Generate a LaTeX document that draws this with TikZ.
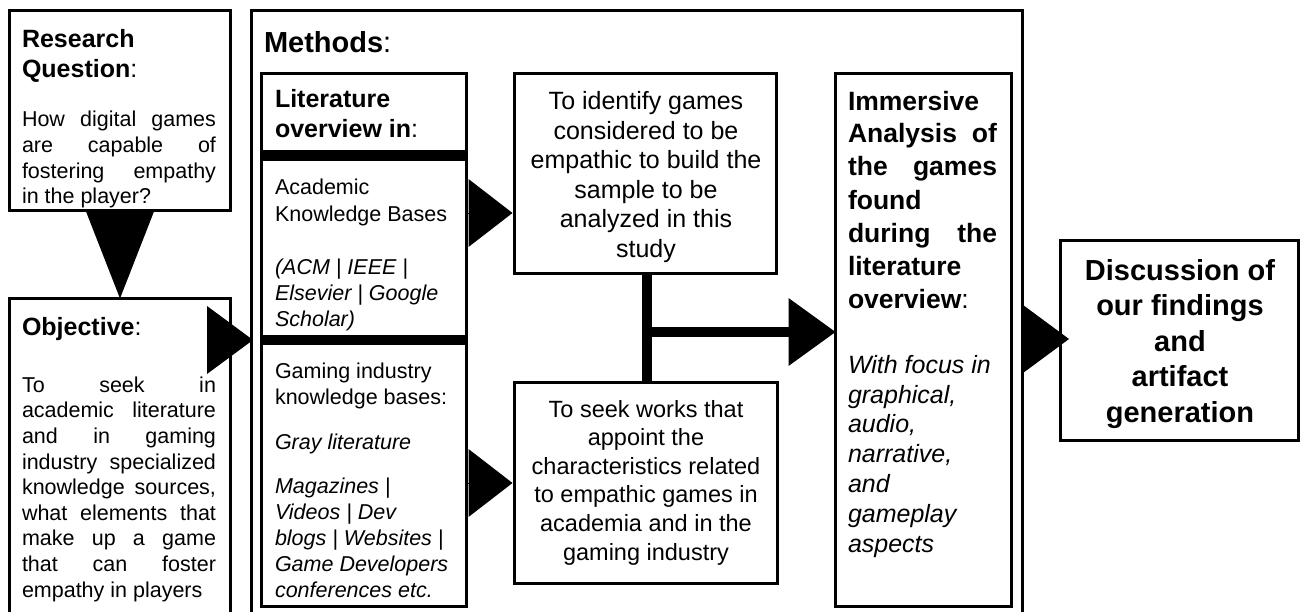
\documentclass[tikz,border=0pt]{standalone}
\usepackage{fontspec}
\setmainfont{Liberation Sans}
\usetikzlibrary{arrows.meta,fit}
% a line whose interword spaces stretch to the given width
\newcommand{\jline}[2]{\makebox[#1][s]{#2}}
\begin{document}
\begin{tikzpicture}[x=1pt,y=-1pt,
  box/.style={draw=black,line width=3pt,inner sep=0pt,outer sep=0pt},
  band/.style={fill=black,draw=none,inner sep=0pt,outer sep=0pt},
  % multi-line texts are placed by the baseline of their last line
  txt/.style={inner sep=0pt,outer sep=0pt,anchor=base west,align=left,text=black},
  ctxt/.style={inner sep=0pt,outer sep=0pt,anchor=base,align=center,text=black},
  headfont/.style={font=\fontsize{25}{30}\selectfont\bfseries},
  bodyfont/.style={font=\fontsize{21.5}{25.7}\selectfont},
  pointer/.style={-{Triangle[length=#1,width=68pt,line width=0pt 0]}},
  link/.style={line width=0.4pt},
  thicklink/.style={line width=10pt},
]
\clip (0,0) rectangle (1300,612);
\fill[white] (0,0) rectangle (1300,612);

% boxes
\node[box,fit={(9.5,10.5) (230.5,210.5)}] (rq) {};
\node[box,fit={(9.5,298.5) (230.5,640)}] (obj) {};
\node[box,fit={(251.5,11) (1022,640)}] (methods) {};
\node[box,fit={(261.5,73.5) (466.5,606.5)}] (lit) {};
\node[band,fit={(260,150) (468,161)}] (band1) {};
\node[band,fit={(260,335) (468,345)}] (band2) {};
\node[box,fit={(514.5,73.5) (776.5,273.5)}] (identify) {};
\node[box,fit={(514.5,382.5) (777,583)}] (seek) {};
\node[box,fit={(835.5,73.5) (1011.5,606.5)}] (immersive) {};
\node[box,fit={(1060.5,240.5) (1298.5,440.5)}] (discussion) {};

% connectors
\coordinate (objout) at (207,340);
\coordinate (acadout) at (468,213);
\coordinate (gameout) at (468,483);
\coordinate (hub) at (647,332);
\coordinate (methout) at (1023,339);

\draw[link,pointer=87pt] (rq.south) -- (obj.north);
\draw[link,pointer=46pt] (objout) -- ([xshift=1.5pt]methods.west |- objout);
\draw[link,pointer=44pt] (acadout) -- ([xshift=-2pt]identify.west |- acadout);
\draw[link,pointer=44pt] (gameout) -- ([xshift=-2pt]seek.west |- gameout);
\draw[thicklink] (identify.south -| hub) -- (seek.north -| hub);
\draw[thicklink,pointer=47pt] (hub) -- (immersive.west |- hub);
\draw[link,pointer=46pt] (methout) -- ([xshift=8.5pt]discussion.west |- methout);

% research question
\node[txt,headfont] (rqhead) at (22,78) {Research\\Question{\mdseries :}};
\node[txt,bodyfont] (rqbody) at (22,204) {%
  \jline{194pt}{How digital games}\\
  \jline{194pt}{are capable of}\\
  \jline{194pt}{fostering empathy}\\
  in the player?};

% objective
\node[txt,headfont] (objhead) at (22,335) {Objective{\mdseries :}};
\node[txt,font=\fontsize{21.5}{25.6}\selectfont] (objbody) at (22,597) {%
  \jline{194pt}{To seek in}\\
  \jline{194pt}{academic literature}\\
  \jline{194pt}{and in gaming}\\
  \jline{194pt}{industry specialized}\\
  \jline{194pt}{knowledge sources,}\\
  \jline{194pt}{what elements that}\\
  \jline{194pt}{make up a game}\\
  \jline{194pt}{that can foster}\\
  empathy in players};

% methods
\node[txt,font=\fontsize{29}{34}\selectfont\bfseries] (methhead) at (264,53) {Methods{\mdseries :}};

% literature overview
\node[txt,headfont] (lithead) at (275,138) {Literature\\overview in{\mdseries :}};
\node[txt,font=\fontsize{21.5}{26}\selectfont] (acad) at (275,326) {%
  Academic\\
  Knowledge Bases\\[27pt]
  \textit{(ACM | IEEE |}\\
  \textit{Elsevier | Google}\\
  \textit{Scholar)}};
\node[txt,font=\fontsize{21.5}{25.8}\selectfont] (game) at (275,597) {%
  Gaming industry\\
  knowledge bases:\\[19pt]
  \textit{Gray literature}\\[19pt]
  \textit{Magazines |}\\
  \textit{Videos | Dev}\\
  \textit{blogs | Websites |}\\
  \textit{Game Developers}\\
  \textit{conferences etc.}};

% middle column
\node[ctxt,font=\fontsize{25}{29.5}\selectfont] (identifytext) at (646,257.5) {%
  To identify games\\
  considered to be\\
  empathic to build the\\
  sample to be\\
  analyzed in this\\
  study};
\node[ctxt,font=\fontsize{23.5}{28.6}\selectfont] (seektext) at (646,560) {%
  To seek works that\\
  appoint the\\
  characteristics related\\
  to empathic games in\\
  academia and in the\\
  gaming industry};

% immersive analysis
\node[txt,font=\fontsize{26.5}{33}\selectfont\bfseries] (immhead) at (848,308) {%
  Immersive\\
  \jline{149pt}{Analysis of}\\
  \jline{149pt}{the games}\\
  found\\
  \jline{149pt}{during the}\\
  literature\\
  overview{\mdseries :}};
\node[txt,font=\fontsize{25}{29.8}\selectfont\itshape] (immbody) at (848,552) {%
  With focus in\\
  graphical,\\
  audio,\\
  narrative,\\
  and\\
  gameplay\\
  aspects};

% discussion
\node[ctxt,font=\fontsize{29}{35.5}\selectfont\bfseries] (disctext) at (1180,422) {%
  Discussion of\\
  our findings\\
  and\\
  artifact\\
  generation};
\end{tikzpicture}
\end{document}
